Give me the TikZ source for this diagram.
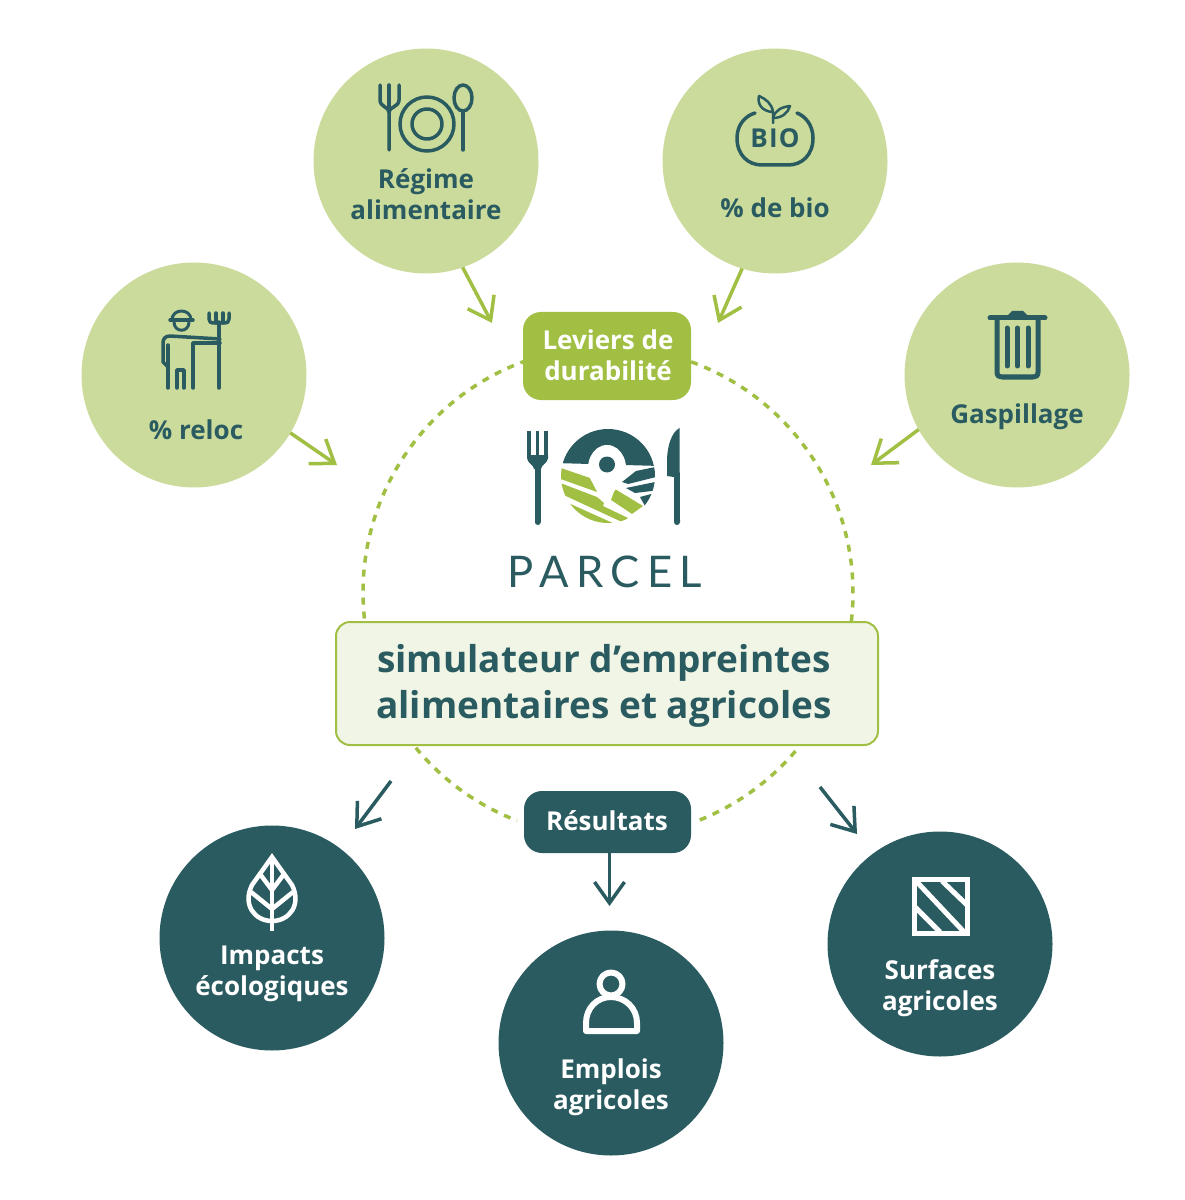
\documentclass[tikz,border=0pt]{standalone}
\usepackage{fontspec}
\usetikzlibrary{arrows.meta}
\setmainfont{Open Sans}
\newfontfamily\parcelfont[LetterSpace=17]{Lato}
\definecolor{teal}{HTML}{295B60}
\definecolor{lightgreen}{HTML}{CBDB9C}
\definecolor{olive}{HTML}{A0BF43}
\definecolor{paleg}{HTML}{F1F5E6}
\def\px{0.025cm}
\newcommand{\fs}[2]{\fontsize{\the\dimexpr #1pt*7113/10000\relax}{\the\dimexpr #2pt*7113/10000\relax}\selectfont}
\tikzset{
  x=0.025cm,y=-0.025cm,
  bub/.style={circle,fill=lightgreen,minimum size=225*\px,inner sep=0pt,outer sep=0pt},
  dbub/.style={circle,fill=teal,minimum size=225*\px,inner sep=0pt,outer sep=0pt},
  lab/.style={align=center,inner sep=0pt,text=teal,font=\fs{26}{31}\bfseries},
  wlab/.style={lab,text=white},
  pill/.style={rounded corners=18*\px,inner sep=0pt,outer sep=0pt},
  ringarc/.style={draw=olive,line width=3.5*\px,dash pattern=on 7*\px off 7*\px},
  arrowg/.style={draw=olive,line width=3.5*\px,-{Straight Barb[length=21*\px,width=30*\px]}},
  arrowd/.style={draw=teal,line width=3.5*\px,-{Straight Barb[length=21*\px,width=30*\px]}},
  ico/.style={draw=teal,line width=3.5*\px,line cap=round,line join=round},
  wico/.style={draw=white,line width=4.5*\px,line cap=round,line join=round},
}
\begin{document}
\begin{tikzpicture}
\path[use as bounding box] (0,0) rectangle (1184,1200);
% circles
\node[bub] (reg) at (426,161) {};
\node[bub] (bio) at (775,161) {};
\node[bub] (rel) at (194,375) {};
\node[bub] (gas) at (1017,375) {};
\node[dbub] (imp) at (272,938) {};
\node[dbub] (emp) at (611,1043) {};
\node[dbub] (sur) at (940,944) {};
% ring
\node[circle,minimum size=492*\px,inner sep=0pt,outer sep=0pt] (ring) at (607,593) {};
\draw[ringarc] (ring.109.5) arc[start angle=109.5,end angle=186.7,radius=246*\px];
\draw[ringarc] (ring.70) arc[start angle=70,end angle=-6.7,radius=246*\px];
\draw[ringarc] (ring.219.6) arc[start angle=219.6,end angle=249,radius=246*\px];
\draw[ringarc] (ring.-40.4) arc[start angle=-40.4,end angle=-69,radius=246*\px];
% pills
\node[pill,fill=olive,minimum width=168*\px,minimum height=88*\px] (lev) at (607,356) {};
\node[wlab] (levt) at (608,355) {Leviers de\\durabilité};
\node[pill,fill=teal,minimum width=167*\px,minimum height=62*\px] (res) at (607.5,822) {};
\node[wlab] (rest) at (607,821) {Résultats};
\node[rounded corners=14*\px,fill=paleg,draw=olive,line width=2*\px,minimum width=542*\px,minimum height=123*\px,inner sep=0pt] (sim) at (607,683.5) {};
\node[lab,font=\fs{37}{46}\bfseries] (simt) at (604,686) {simulateur d’empreintes\\alimentaires et agricoles};
% labels
\node[lab] (regt) at (426,194) {Régime\\alimentaire};
\node[lab] (biot) at (775,208) {\% de bio};
\node[lab] (relt) at (196,430) {\% reloc};
\node[lab] (gast) at (1017,417) {Gaspillage};
\node[wlab] (impt) at (272,974) {Impacts\\écologiques};
\node[wlab] (empt) at (611,1087) {Emplois\\agricoles};
\node[wlab] (surt) at (940,988) {Surfaces\\agricoles};
% arrows
\coordinate (a1) at (492,323);
\coordinate (a2) at (718,323);
\coordinate (a3) at (337,465);
\coordinate (a4) at (871,465);
\coordinate (b1s) at (391,781);
\coordinate (b1) at (355,829);
\coordinate (b2s) at (820,787);
\coordinate (b2) at (857,834);
\coordinate (b3) at (609.5,906);
\draw[arrowg] (reg.-71) -- (a1);
\draw[arrowg] (bio.-107.5) -- (a2);
\draw[arrowg] (rel.-31) -- (a3);
\draw[arrowg] (gas.209.7) -- (a4);
\draw[arrowd] (b1s) -- (b1);
\draw[arrowd] (b2s) -- (b2);
\draw[arrowd] (res.south -| b3) -- (b3);
% icon: regime
\draw[ico] (380,85) -- (380,100) .. controls (380,107) and (389,107) .. (389,112) -- (389,150);
\draw[ico] (389,85) -- (389,112);
\draw[ico] (399,85) -- (399,100) .. controls (399,107) and (389,107) .. (389,112);
\draw[ico] (427,124) circle[radius=27*\px];
\draw[ico] (427,124) circle[radius=15*\px];
\draw[ico] (463,98) ellipse[x radius=9*\px,y radius=13*\px];
\draw[ico] (463,111) -- (463,150);
% icon: bio
\draw[ico] (755,113) .. controls (745,116) and (737,125) .. (737,138) .. controls (737,155) and (748,165) .. (762,165) -- (788,165) .. controls (802,165) and (813,155) .. (813,138) .. controls (813,125) and (805,116) .. (797,113);
\node[inner sep=0pt,text=teal,font=\fontsize{18.5pt}{20pt}\selectfont\bfseries\addfontfeatures{LetterSpace=5}] (biologo) at (775,138) {BIO};
\draw[ico,line width=2.5*\px] (773,123) -- (773,112) .. controls (772,104) and (766,99) .. (759,96) .. controls (757,104) and (762,111) .. (772,112);
\draw[ico,line width=2.5*\px] (773,118) .. controls (775,110) and (782,107) .. (790,106) .. controls (788,113) and (782,118) .. (773,118);
% icon: farmer
\draw[ico] (170,320) -- (193,320);
\draw[ico,line width=3*\px] (172,320) .. controls (172,308) and (191,308) .. (191,320);
\draw[ico,line width=3*\px] (174,322) .. controls (174,333) and (189,333) .. (189,322);
\draw[ico] (220,339) -- (170,336) .. controls (165,336) and (163,339) .. (163,343) -- (163,362) -- (168,367);
\draw[ico] (168,345) -- (168,388);
\draw[ico] (177,388) -- (177,370) -- (184,370) -- (184,388);
\draw[ico] (193,388) -- (193,343) -- (220,343);
\draw[ico] (219,388) -- (219,322);
\draw[ico] (209,313) -- (209,319) .. controls (209,322) and (211,323) .. (213,323) -- (225,323) .. controls (227,323) and (229,322) .. (229,319) -- (229,313);
\draw[ico] (216,313) -- (216,323);
\draw[ico] (223,313) -- (223,323);
% icon: trash
\draw[ico,line width=5*\px] (990,318) -- (1045,318);
\fill[teal] (1006,317) -- (1012,311) -- (1023,311) -- (1029,317) -- cycle;
\draw[ico,line width=5*\px] (997,318) -- (997,372) .. controls (997,376) and (999,377) .. (1002,377) -- (1033,377) .. controls (1036,377) and (1038,376) .. (1038,372) -- (1038,318);
\draw[ico,line width=5*\px] (1007,328) -- (1007,366);
\draw[ico,line width=5*\px] (1017.5,328) -- (1017.5,366);
\draw[ico,line width=5*\px] (1028,328) -- (1028,366);
% icon: leaf
\draw[wico,line cap=butt,line join=miter] (272,857) -- (252,885) .. controls (242,905) and (255,921) .. (272,921) .. controls (289,921) and (302,905) .. (292,885) -- cycle;
\draw[wico,line cap=butt] (272,860) -- (272,931);
\draw[wico,line cap=butt] (260,874) -- (272,890) -- (284,874);
\draw[wico,line cap=butt] (251,892) -- (272,909) -- (293,892);
% icon: person
\draw[wico,line width=6*\px] (611,984) circle[radius=11.5*\px];
\draw[wico,line width=6*\px] (586,1031) -- (586,1023) .. controls (586,1008) and (597,997) .. (611,997) .. controls (625,997) and (637,1008) .. (637,1023) -- (637,1031) -- cycle;
% icon: square
\draw[draw=white,line width=5*\px] (914.5,879.5) rectangle (967.5,933.5);
\draw[draw=white,line width=5*\px] (916,881) -- (964,932);
\draw[draw=white,line width=5*\px] (942,881) -- (967,905);
\draw[draw=white,line width=5*\px] (915,907) -- (940,932);
% logo fork
\draw[teal,line width=3.5*\px] (529,431) -- (529,456);
\draw[teal,line width=3.5*\px] (537.5,431) -- (537.5,456);
\draw[teal,line width=3.5*\px] (546,431) -- (546,456);
\fill[teal] (527,455) -- (548,455) -- (548,458) .. controls (548,463) and (541,465) .. (541,469) -- (534,469) .. controls (534,465) and (527,463) .. (527,458) -- cycle;
\draw[teal,line width=6*\px,line cap=round] (537.5,465) -- (537.5,522);
% logo knife
\fill[teal] (679.5,428) .. controls (672,432) and (667,445) .. (667,462) -- (667,476) -- (674,477) -- (674,522) .. controls (674,526) and (680,526) .. (680,522) -- cycle;
% logo disc
\begin{scope}
\clip (608,476) circle[radius=47*\px];
\fill[teal] (555,463) -- (660,466) -- (660,425) -- (555,425) -- cycle;
\fill[olive] (555,466) -- (590,478) -- (597,492) -- (555,477) -- cycle;
\fill[olive] (555,481) -- (597,497) -- (604,503) -- (603,506) -- (628,518) -- (622,522) -- (555,491) -- cycle;
\fill[olive] (555,497) -- (615,524) -- (600,530) -- (560,530) -- cycle;
\fill[olive] (615,489) -- (643,506) -- (632,514) -- (611,500) -- cycle;
\fill[teal] (622,482) -- (636,471) -- (660,466) -- (660,476) -- (628,484) -- cycle;
\fill[teal] (626,488) -- (660,481) -- (660,490) -- (635,493) -- cycle;
\fill[teal] (640,497) -- (655,493) -- (645,506) -- cycle;
\end{scope}
\fill[white] (605,503) -- (591,480) .. controls (583,465) and (592,445) .. (607,445) .. controls (622,445) and (631,465) .. (623,480) -- cycle;
\fill[teal] (607,464.5) circle[radius=8*\px];
% PARCEL
\node[inner sep=0pt,text=teal,font=\parcelfont\fontsize{31pt}{36pt}\selectfont] (parcel) at (605,572) {PARCEL};
\end{tikzpicture}
\end{document}
